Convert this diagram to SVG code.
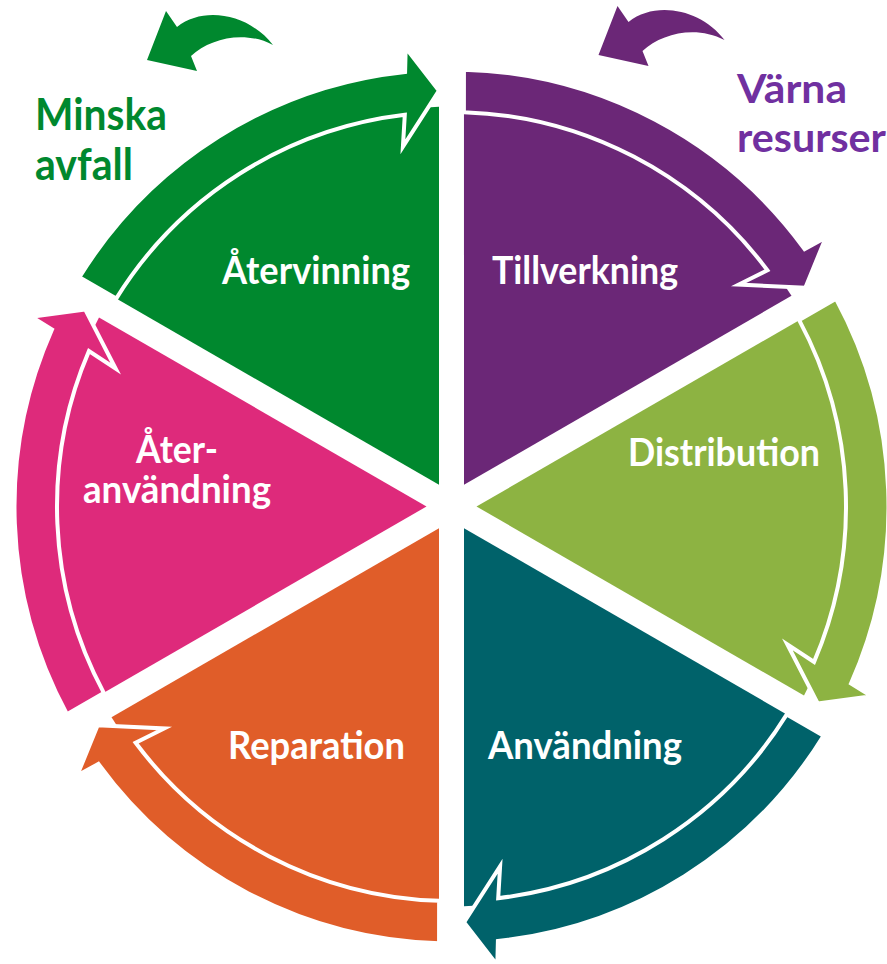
<svg xmlns="http://www.w3.org/2000/svg" xmlns:xlink="http://www.w3.org/1999/xlink" width="887" height="964" viewBox="0 0 887 964">
<style>
.arrow{stroke:#ffffff;stroke-width:4;stroke-linejoin:miter;stroke-miterlimit:10}
.lbl{font-family:Lato,"Liberation Sans",sans-serif;font-weight:bold;font-size:39px;fill:#ffffff;text-anchor:middle}
.side{font-family:Lato,"Liberation Sans",sans-serif;font-weight:bold}
.green{fill:#00882E}
.purple{fill:#6B2777}
.lime{fill:#8DB342}
.teal{fill:#00626A}
.orange{fill:#E05D29}
.pink{fill:#DE2A7B}
</style>
<defs>
<path id="sec" d="M439,484.85 L439,106.7 A400,400 0 0 0 111.5,295.8 Z"/>
<path id="arr" d="M79.4,277.3 A437,437 0 0 1 405.1,72 L405.7,47.8 L439,90.7 L402.9,146.8 L404.8,114.8 A394.5,394.5 0 0 0 116.2,298.6 Z"/>
<path id="small" d="M273,45 C250,15 205,5 177,27 L166,11 L147,60 L197,71 L191,56 C210,38 245,30 273,45 Z"/>
</defs>
<rect width="887" height="964" fill="#ffffff"/>
<g id="atervinning">
<use xlink:href="#sec" class="green"/>
<text class="lbl" x="316" y="284" textLength="188" lengthAdjust="spacingAndGlyphs">Återvinning</text>
</g>
<g id="tillverkning">
<use xlink:href="#sec" class="purple" transform="rotate(60 451.5 506.5)"/>
<text class="lbl" x="585" y="284" textLength="186" lengthAdjust="spacingAndGlyphs">Tillverkning</text>
</g>
<g id="distribution">
<use xlink:href="#sec" class="lime" transform="rotate(120 451.5 506.5)"/>
<text class="lbl" x="724" y="466" textLength="192" lengthAdjust="spacingAndGlyphs">Distribution</text>
</g>
<g id="anvandning">
<use xlink:href="#sec" class="teal" transform="rotate(180 451.5 506.5)"/>
<text class="lbl" x="585" y="759" textLength="194" lengthAdjust="spacingAndGlyphs">Användning</text>
</g>
<g id="reparation">
<use xlink:href="#sec" class="orange" transform="rotate(240 451.5 506.5)"/>
<text class="lbl" x="316.5" y="759" textLength="177" lengthAdjust="spacingAndGlyphs">Reparation</text>
</g>
<g id="ateranvandning">
<use xlink:href="#sec" class="pink" transform="rotate(300 451.5 506.5)"/>
<text class="lbl" x="177" y="463" textLength="82" lengthAdjust="spacingAndGlyphs">Åter-</text>
<text class="lbl" x="177" y="503" textLength="188" lengthAdjust="spacingAndGlyphs">användning</text>
</g>
<g id="connectors">
<use xlink:href="#arr" class="arrow green"/>
<use xlink:href="#arr" class="arrow purple" transform="rotate(60 451.5 506.5)"/>
<use xlink:href="#arr" class="arrow lime" transform="rotate(120 451.5 506.5)"/>
<use xlink:href="#arr" class="arrow teal" transform="rotate(180 451.5 506.5)"/>
<use xlink:href="#arr" class="arrow orange" transform="rotate(240 451.5 506.5)"/>
<use xlink:href="#arr" class="arrow pink" transform="rotate(300 451.5 506.5)"/>
</g>
<g id="minska-avfall">
<use xlink:href="#small" class="green"/>
<text class="side" x="35" y="130" font-size="43" fill="#00882E" textLength="132" lengthAdjust="spacingAndGlyphs">Minska</text>
<text class="side" x="35" y="180" font-size="43" fill="#00882E" textLength="98" lengthAdjust="spacingAndGlyphs">avfall</text>
</g>
<g id="varna-resurser">
<use xlink:href="#small" class="purple" transform="translate(451.5 -5)"/>
<text class="side" x="737" y="103" font-size="40" fill="#7030A0" textLength="110" lengthAdjust="spacingAndGlyphs">Värna</text>
<text class="side" x="737" y="152" font-size="40" fill="#7030A0" textLength="149" lengthAdjust="spacingAndGlyphs">resurser</text>
</g>
</svg>
